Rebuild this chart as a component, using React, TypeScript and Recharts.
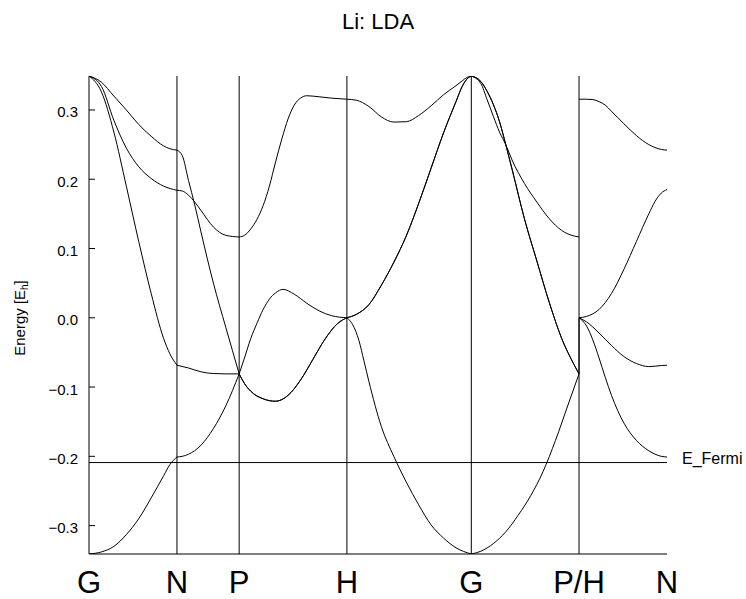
import { LineChart, Line, XAxis, YAxis, ReferenceLine } from "recharts";

// bcc k-path, high-symmetry points in units of 2π/a
const kPoints = [0, 0.7071, 1.2071, 2.0731, 3.0731, 3.9391, 4.6462];
const kLabels = ["G", "N", "P", "H", "G", "P/H", "N"];
const eTicks = [-0.3, -0.2, -0.1, 0, 0.1, 0.2, 0.3];
const eRange: [number, number] = [-0.341, 0.349];
const eFermi = -0.209;

// band segments, [k, E (Hartree)]
const gnLow = [[0, -0.341], [0.1, -0.338], [0.2, -0.33], [0.3, -0.313], [0.4, -0.29], [0.5, -0.26], [0.6, -0.228], [0.65, -0.212], [0.7071, -0.201]];
const gnSteep = [[0, 0.349], [0.1, 0.326], [0.2, 0.268], [0.3, 0.19], [0.4, 0.11], [0.5, 0.035], [0.6, -0.03], [0.65, -0.052], [0.7071, -0.0685]];
const gnMid = [[0, 0.349], [0.1, 0.334], [0.2, 0.285], [0.3, 0.245], [0.4, 0.218], [0.5, 0.201], [0.6, 0.19], [0.7071, 0.184]];
const gnTop = [[0, 0.349], [0.1, 0.34], [0.2, 0.32], [0.3, 0.3], [0.4, 0.279], [0.5, 0.262], [0.6, 0.248], [0.65, 0.244], [0.7071, 0.242]];

const npLow = [[0.7071, -0.201], [0.75, -0.2], [0.8, -0.197], [0.9, -0.184], [1.0, -0.16], [1.1, -0.127], [1.2071, -0.081]];
const npFlat = [[0.7071, -0.0685], [0.8, -0.0725], [0.9, -0.078], [1.0, -0.0805], [1.1, -0.081], [1.2071, -0.081]];
const npMid = [[0.7071, 0.184], [0.75, 0.183], [0.8, 0.177], [0.85, 0.167], [0.9, 0.155], [1.0, 0.131], [1.1, 0.119], [1.2071, 0.1166]];
const npSteep = [[0.7071, 0.242], [0.75, 0.234], [0.8, 0.198], [0.85, 0.163], [0.9, 0.124], [1.0, 0.05], [1.1, -0.014], [1.2071, -0.081]];

const phBump = [[1.2071, -0.081], [1.25, -0.058], [1.3, -0.03], [1.35, -0.008], [1.4, 0.012], [1.45, 0.027], [1.5, 0.036], [1.56, 0.041], [1.65, 0.034], [1.75, 0.021], [1.85, 0.01], [1.95, 0.003], [2.0731, 0]];
const phDip = [[1.2071, -0.081], [1.25, -0.095], [1.3, -0.106], [1.4, -0.117], [1.5, -0.1205], [1.6, -0.112], [1.7, -0.09], [1.8, -0.06], [1.9, -0.03], [2.0, -0.008], [2.0731, 0]];
const phTop = [[1.2071, 0.1166], [1.25, 0.119], [1.3, 0.128], [1.35, 0.142], [1.4, 0.162], [1.45, 0.19], [1.5, 0.225], [1.55, 0.258], [1.6, 0.287], [1.65, 0.307], [1.7, 0.317], [1.75, 0.3205], [1.85, 0.319], [1.95, 0.317], [2.0731, 0.3155]];

const hgTop = [[2.0731, 0.3155], [2.15, 0.314], [2.25, 0.305], [2.35, 0.29], [2.45, 0.2825], [2.55, 0.283], [2.65, 0.292], [2.75, 0.306], [2.85, 0.322], [2.95, 0.335], [3.0, 0.342], [3.04, 0.347], [3.0731, 0.349]];
const hgRise = [[2.0731, 0], [2.15, 0.005], [2.25, 0.019], [2.35, 0.047], [2.45, 0.08], [2.55, 0.118], [2.65, 0.165], [2.75, 0.216], [2.85, 0.267], [2.95, 0.312], [3.0, 0.334], [3.04, 0.345], [3.0731, 0.349]];
const hgFall = [[2.0731, 0], [2.12, -0.01], [2.17, -0.033], [2.21, -0.062], [2.25, -0.092], [2.35, -0.157], [2.45, -0.2], [2.55, -0.237], [2.65, -0.27], [2.75, -0.299], [2.85, -0.318], [2.95, -0.332], [3.0731, -0.341]];

const gpRise = [[3.0731, -0.341], [3.15, -0.337], [3.25, -0.326], [3.35, -0.309], [3.45, -0.285], [3.55, -0.257], [3.65, -0.222], [3.75, -0.177], [3.85, -0.126], [3.9391, -0.081]];
const gpFall = [[3.0731, 0.349], [3.15, 0.341], [3.2, 0.327], [3.25, 0.308], [3.3, 0.283], [3.35, 0.25], [3.4, 0.215], [3.5, 0.143], [3.6, 0.082], [3.7, 0.022], [3.8, -0.03], [3.9, -0.068], [3.9391, -0.081]];
const gpUpper = [[3.0731, 0.349], [3.15, 0.338], [3.2, 0.315], [3.25, 0.291], [3.3, 0.268], [3.35, 0.25], [3.4, 0.228], [3.5, 0.194], [3.6, 0.167], [3.7, 0.143], [3.8, 0.126], [3.9, 0.118], [3.9391, 0.1166]];

const hnTop = [[3.9391, 0.3155], [4.0, 0.3155], [4.05, 0.315], [4.1, 0.312], [4.15, 0.307], [4.2, 0.298], [4.25, 0.289], [4.3, 0.28], [4.4, 0.263], [4.5, 0.25], [4.6, 0.243], [4.6462, 0.242]];
const hnUp = [[3.9391, 0], [4.0, 0.002], [4.1, 0.012], [4.2, 0.035], [4.3, 0.07], [4.4, 0.11], [4.5, 0.15], [4.55, 0.168], [4.6, 0.18], [4.6462, 0.185]];
const hnMid = [[3.9391, 0], [4.0, -0.006], [4.1, -0.022], [4.2, -0.04], [4.3, -0.056], [4.4, -0.066], [4.5, -0.0705], [4.6, -0.069], [4.6462, -0.0685]];
const hnLow = [[3.9391, 0], [4.0, -0.012], [4.05, -0.032], [4.1, -0.058], [4.15, -0.086], [4.2, -0.112], [4.25, -0.134], [4.3, -0.152], [4.4, -0.177], [4.5, -0.192], [4.6, -0.2], [4.6462, -0.201]];

// band joining P (end of G-P) to H (start of H-N) at the same k
const phJump = [[3.9391, -0.081], [3.9391, 0]];

// degenerate bands are listed twice, as in the original data
const curves = [
  gnLow, gnSteep, gnMid, gnTop,
  npLow, npFlat, npMid, npSteep,
  phBump, phDip, phDip, phTop,
  hgTop, hgRise, hgRise, hgFall,
  gpRise, gpFall, gpFall, gpUpper,
  hnTop, hnUp, hnMid, hnLow,
];

const FONT = "'Liberation Sans', Arial, Helvetica, sans-serif";

const fmtE = (v: number) => (Math.abs(v) < 1e-9 ? "0.0" : v < 0 ? "\u2212" + Math.abs(v).toFixed(1) : v.toFixed(1));

function LeftTick({ x, y, payload }: any) {
  return (
    <g>
      <line x1={x} x2={x + 6} y1={y} y2={y} stroke="#000" />
      <text x={x - 11} y={y + 7.5} textAnchor="end" fontSize={15} fontFamily={FONT} fill="#000">
        {fmtE(payload.value)}
      </text>
    </g>
  );
}

function RightTick({ x, y }: any) {
  return <line x1={x - 6} x2={x} y1={y} y2={y} stroke="#000" />;
}

function KTick({ x, y, payload, index }: any) {
  const i = kPoints.indexOf(payload.value);
  return (
    <text x={x} y={y + 39} textAnchor="middle" fontSize={31} fontFamily={FONT} fill="#000">
      {kLabels[i >= 0 ? i : index]}
    </text>
  );
}

function EnergyLabel(props: any) {
  const vb = props.viewBox ?? { x: 0, y: 76, width: 89, height: 478 };
  const cx = vb.x + 25;
  const cy = vb.y + vb.height / 2 + 3;
  return (
    <text x={cx} y={cy} transform={`rotate(-90 ${cx} ${cy})`} textAnchor="middle" fontSize={15} fontFamily={FONT} fill="#000">
      Energy [E<tspan fontSize={10} dy={3}>h</tspan>
      <tspan dy={-3}>]</tspan>
    </text>
  );
}

function FermiLabel(props: any) {
  const vb = props.viewBox ?? { x: 89, y: 462, width: 578 };
  return (
    <text x={vb.x + vb.width + 15} y={vb.y + 1} fontSize={16} fontFamily={FONT} fill="#000">
      E_Fermi
    </text>
  );
}

export default function App() {
  const kDomain: [number, number] = [kPoints[0], kPoints[kPoints.length - 1]];
  return (
    <div style={{ position: "relative", width: 746, height: 599, background: "#fff" }}>
      <style>{"body{margin:0;background:#fff}"}</style>
      <div
        style={{
          position: "absolute",
          left: 89,
          width: 578,
          top: 11,
          textAlign: "center",
          fontFamily: FONT,
          fontSize: 22,
          lineHeight: "22px",
          color: "#000",
        }}
      >
        Li: LDA
      </div>
      <LineChart width={746} height={599} margin={{ top: 76, right: 79, bottom: 0, left: 0 }}>
        <XAxis
          dataKey="k"
          type="number"
          domain={kDomain}
          ticks={kPoints}
          interval={0}
          allowDataOverflow
          height={45}
          tickSize={0}
          tickMargin={0}
          tickLine={false}
          axisLine={{ stroke: "#000" }}
          tick={<KTick />}
        />
        <XAxis
          xAxisId="top"
          orientation="top"
          type="number"
          domain={kDomain}
          height={0}
          tick={false}
          tickLine={false}
          axisLine={{ stroke: "#000" }}
        />
        <YAxis
          type="number"
          domain={eRange}
          ticks={eTicks}
          interval={0}
          allowDataOverflow
          width={89}
          tickSize={0}
          tickMargin={0}
          tickLine={false}
          axisLine={{ stroke: "#000" }}
          tick={<LeftTick />}
          label={(p: any) => <EnergyLabel {...p} />}
        />
        <YAxis
          yAxisId="right"
          orientation="right"
          type="number"
          domain={eRange}
          ticks={eTicks}
          interval={0}
          allowDataOverflow
          width={0}
          tickSize={0}
          tickMargin={0}
          tickLine={false}
          axisLine={{ stroke: "#000" }}
          tick={<RightTick />}
        />
        {kPoints.slice(1, -1).map((k) => (
          <ReferenceLine key={"k" + k} x={k} stroke="#000" strokeWidth={1} />
        ))}
        <ReferenceLine y={eFermi} stroke="#000" strokeWidth={1} label={(p: any) => <FermiLabel {...p} />} />
        {curves.map((c, i) => (
          <Line
            key={i}
            data={c.map(([k, e]) => ({ k, e }))}
            dataKey="e"
            type="monotone"
            stroke="#000"
            strokeWidth={1}
            dot={false}
            activeDot={false}
            isAnimationActive={false}
          />
        ))}
        <Line
          data={phJump.map(([k, e]) => ({ k, e }))}
          dataKey="e"
          type="linear"
          stroke="#000"
          strokeWidth={1}
          dot={false}
          activeDot={false}
          isAnimationActive={false}
        />
      </LineChart>
    </div>
  );
}
